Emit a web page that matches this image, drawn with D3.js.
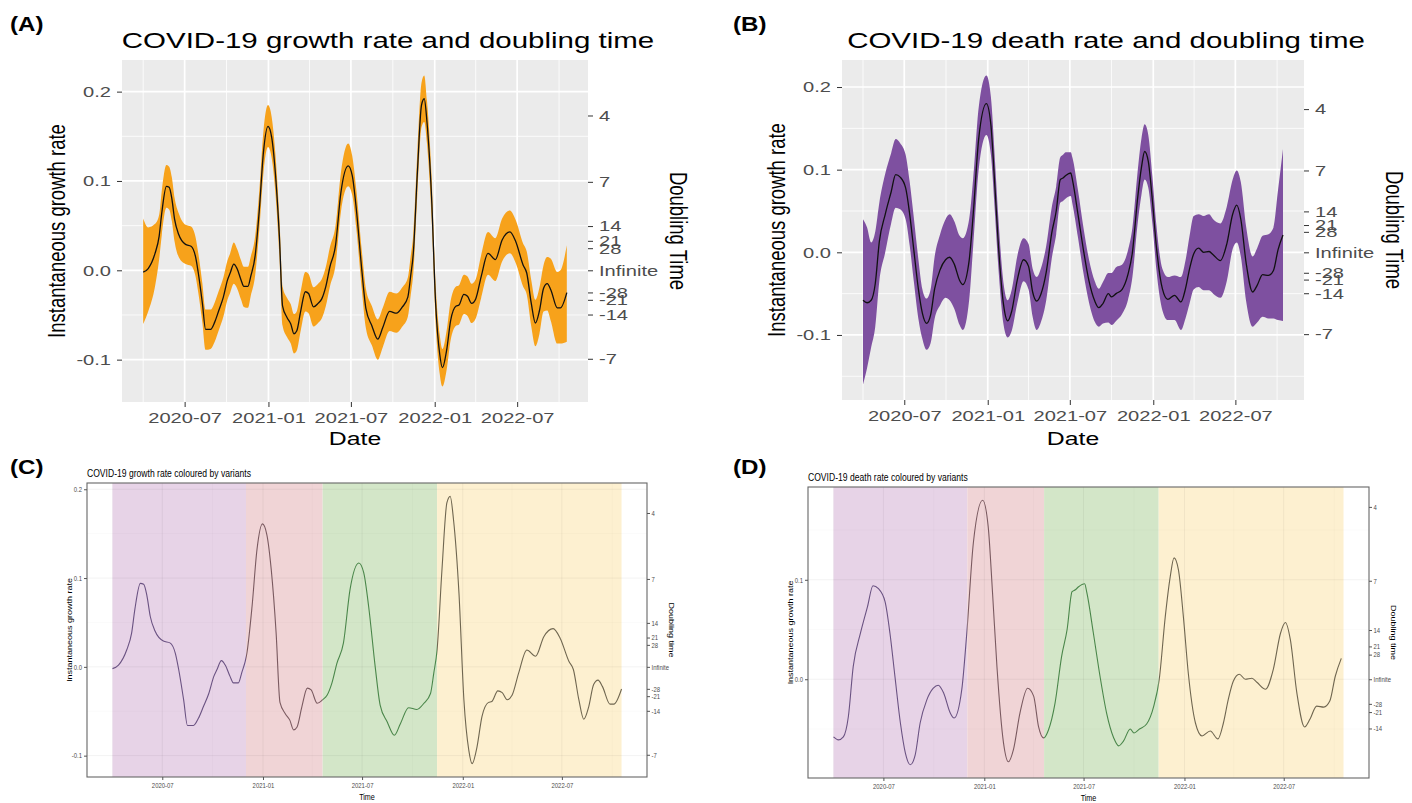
<!DOCTYPE html>
<html><head><meta charset="utf-8">
<script src="https://cdn.jsdelivr.net/npm/d3@7"></script>
<style>
body{margin:0;background:#fff;}
svg{display:block;font-family:"Liberation Sans",Arial,sans-serif;}
</style>
</head><body>
<svg id="chart" width="1412" height="803"></svg>
<script>
// ---------------- DATA ----------------
const growthDates = ["2020-04-01","2020-04-12","2020-04-27","2020-05-06","2020-05-12","2020-05-22","2020-05-28","2020-06-03","2020-06-09","2020-06-18",
"2020-07-03","2020-07-15","2020-07-25","2020-07-31","2020-08-09","2020-08-16","2020-08-27","2020-09-05","2020-09-14","2020-09-24",
"2020-10-03","2020-10-09","2020-10-17","2020-10-24","2020-11-02","2020-11-08","2020-11-17","2020-11-23","2020-12-03","2020-12-12",
"2020-12-21","2020-12-31","2021-01-08","2021-01-16","2021-01-25","2021-02-01","2021-02-11","2021-02-19","2021-02-26","2021-03-04",
"2021-03-13","2021-03-23","2021-03-30","2021-04-10","2021-04-20","2021-04-28","2021-05-07","2021-05-16","2021-05-28","2021-06-09",
"2021-06-25","2021-07-04","2021-07-13","2021-07-25","2021-08-03","2021-08-16","2021-08-29","2021-09-09","2021-09-24","2021-10-09",
"2021-10-22","2021-11-03","2021-11-09","2021-11-15","2021-11-24","2021-12-03","2021-12-09","2021-12-15","2021-12-25","2022-01-03",
"2022-01-12","2022-01-18","2022-01-27","2022-02-05","2022-02-17","2022-02-23","2022-03-06","2022-03-14","2022-03-23","2022-04-01",
"2022-04-13","2022-04-28","2022-05-14","2022-05-29","2022-06-15","2022-06-28","2022-07-14","2022-07-22","2022-08-01","2022-08-10",
"2022-08-19","2022-08-28","2022-09-05","2022-09-13","2022-09-27","2022-10-04","2022-10-18"];
const growthRate = [-0.002,0.002,0.019,0.038,0.065,0.094,0.093,0.080,0.057,0.040,
0.029,0.027,0.015,-0.003,-0.037,-0.066,-0.066,-0.058,-0.045,-0.030,
-0.011,-0.003,0.007,0.002,-0.011,-0.018,-0.018,-0.007,0.017,0.068,
0.132,0.161,0.149,0.110,0.038,-0.040,-0.053,-0.060,-0.071,-0.068,
-0.045,-0.024,-0.026,-0.041,-0.037,-0.032,-0.018,0.004,0.027,0.087,
0.117,0.106,0.068,0.000,-0.043,-0.062,-0.077,-0.064,-0.046,-0.048,
-0.041,-0.030,-0.007,0.019,0.110,0.185,0.192,0.166,0.083,-0.037,
-0.094,-0.109,-0.090,-0.056,-0.040,-0.039,-0.027,-0.029,-0.037,-0.032,
-0.007,0.019,0.012,0.034,0.043,0.032,0.006,-0.003,-0.037,-0.059,
-0.045,-0.020,-0.015,-0.022,-0.042,-0.042,-0.025];
const growthLower = [-0.060,-0.046,-0.018,0.012,0.040,0.070,0.068,0.055,0.032,0.015,
0.007,0.005,-0.007,-0.025,-0.059,-0.089,-0.088,-0.080,-0.067,-0.052,
-0.033,-0.025,-0.015,-0.020,-0.033,-0.041,-0.042,-0.029,-0.005,0.046,
0.109,0.138,0.126,0.088,0.016,-0.062,-0.075,-0.082,-0.093,-0.090,
-0.067,-0.046,-0.048,-0.063,-0.059,-0.054,-0.040,-0.018,0.005,0.065,
0.094,0.084,0.046,-0.022,-0.065,-0.084,-0.100,-0.086,-0.068,-0.070,
-0.063,-0.052,-0.029,-0.003,0.086,0.160,0.166,0.142,0.059,-0.059,
-0.116,-0.130,-0.112,-0.078,-0.062,-0.061,-0.049,-0.051,-0.059,-0.054,
-0.031,-0.005,-0.012,0.010,0.019,0.008,-0.018,-0.027,-0.063,-0.085,
-0.071,-0.046,-0.045,-0.057,-0.082,-0.082,-0.080];
const growthUpper = [0.058,0.048,0.052,0.062,0.090,0.118,0.116,0.104,0.081,0.064,
0.051,0.049,0.037,0.019,-0.015,-0.044,-0.044,-0.036,-0.023,-0.008,
0.011,0.019,0.031,0.024,0.011,0.004,0.004,0.015,0.039,0.090,
0.156,0.185,0.172,0.132,0.060,-0.018,-0.031,-0.038,-0.049,-0.046,
-0.023,-0.002,-0.004,-0.019,-0.015,-0.010,0.004,0.026,0.049,0.109,
0.142,0.128,0.090,0.022,-0.021,-0.040,-0.055,-0.042,-0.024,-0.026,
-0.019,-0.008,0.015,0.041,0.134,0.210,0.218,0.190,0.107,-0.015,
-0.072,-0.088,-0.068,-0.034,-0.018,-0.017,-0.005,-0.007,-0.015,-0.010,
0.017,0.043,0.036,0.058,0.067,0.056,0.030,0.021,-0.011,-0.033,
-0.019,0.006,0.015,0.013,-0.002,0.000,0.028];

const deathDates = ["2020-04-01","2020-04-10","2020-04-19","2020-04-28","2020-05-07","2020-05-20","2020-06-02","2020-06-12","2020-06-22","2020-07-04",
"2020-07-13","2020-07-22","2020-08-01","2020-08-10","2020-08-19","2020-08-28","2020-09-06","2020-09-18","2020-09-30","2020-10-09",
"2020-10-19","2020-10-31","2020-11-07","2020-11-21","2020-11-30","2020-12-12","2020-12-29","2021-01-08","2021-01-16","2021-01-24",
"2021-02-05","2021-02-14","2021-02-23","2021-03-07","2021-03-21","2021-04-01","2021-04-10","2021-04-19","2021-04-28","2021-05-10",
"2021-05-22","2021-06-01","2021-06-10","2021-06-16","2021-06-22","2021-07-03","2021-07-07","2021-07-19","2021-07-31","2021-08-12",
"2021-08-25","2021-09-03","2021-09-12","2021-09-24","2021-10-01","2021-10-11","2021-10-24","2021-11-06","2021-11-16","2021-11-27",
"2021-12-06","2021-12-13","2021-12-21","2021-12-30","2022-01-08","2022-01-21","2022-02-02","2022-02-17","2022-03-03","2022-03-13",
"2022-03-22","2022-03-31","2022-04-11","2022-04-22","2022-05-04","2022-05-13","2022-05-29","2022-06-12","2022-06-25","2022-07-04",
"2022-07-13","2022-07-25","2022-08-08","2022-08-18","2022-08-30","2022-09-12","2022-09-23","2022-10-03","2022-10-14"];
const deathRate = [-0.058,-0.061,-0.058,-0.038,0.013,0.046,0.073,0.094,0.091,0.078,
0.046,0.003,-0.044,-0.074,-0.086,-0.076,-0.044,-0.021,-0.009,-0.006,
-0.014,-0.034,-0.039,-0.010,0.046,0.137,0.180,0.154,0.087,0.013,
-0.064,-0.083,-0.071,-0.034,-0.009,-0.017,-0.048,-0.059,-0.051,-0.024,
0.023,0.050,0.088,0.090,0.093,0.096,0.087,0.046,0.003,-0.034,
-0.059,-0.067,-0.062,-0.050,-0.054,-0.050,-0.045,-0.027,0.000,0.063,
0.103,0.122,0.110,0.063,0.006,-0.044,-0.057,-0.052,-0.060,-0.044,
-0.020,-0.002,0.005,0.000,0.001,-0.003,-0.010,0.010,0.046,0.057,
0.040,-0.014,-0.048,-0.040,-0.027,-0.028,-0.022,0.003,0.021];
const deathLower = [-0.160,-0.140,-0.115,-0.090,-0.035,0.000,0.035,0.054,0.052,0.040,
0.008,-0.035,-0.080,-0.105,-0.118,-0.110,-0.080,-0.064,-0.055,-0.058,
-0.068,-0.088,-0.094,-0.058,0.008,0.100,0.142,0.118,0.055,-0.015,
-0.088,-0.103,-0.095,-0.062,-0.035,-0.045,-0.078,-0.094,-0.085,-0.058,
-0.008,0.022,0.060,0.062,0.065,0.068,0.058,0.018,-0.025,-0.060,
-0.084,-0.090,-0.086,-0.085,-0.088,-0.083,-0.075,-0.058,-0.030,0.032,
0.070,0.088,0.078,0.035,-0.022,-0.070,-0.082,-0.082,-0.094,-0.080,
-0.062,-0.045,-0.042,-0.046,-0.046,-0.050,-0.055,-0.035,0.004,0.012,
-0.005,-0.060,-0.090,-0.085,-0.078,-0.080,-0.080,-0.082,-0.083];
const deathUpper = [0.040,0.030,0.012,0.025,0.060,0.095,0.120,0.137,0.132,0.118,
0.085,0.042,-0.008,-0.045,-0.056,-0.045,-0.005,0.022,0.040,0.046,
0.038,0.020,0.017,0.040,0.090,0.175,0.214,0.188,0.120,0.045,
-0.038,-0.058,-0.045,-0.005,0.017,0.010,-0.020,-0.030,-0.020,0.008,
0.054,0.080,0.115,0.118,0.121,0.121,0.114,0.075,0.030,-0.008,
-0.035,-0.044,-0.036,-0.025,-0.025,-0.018,-0.015,0.002,0.030,0.095,
0.138,0.155,0.142,0.092,0.032,-0.020,-0.030,-0.028,-0.030,-0.010,
0.020,0.044,0.046,0.044,0.046,0.040,0.035,0.055,0.088,0.099,
0.085,0.030,-0.005,0.005,0.020,0.022,0.030,0.075,0.125];

const variantNames = ["Wild type","Alpha","Delta","Omicron"];
const variantStart = ["2020-04-01","2020-12-01","2021-04-20","2021-11-15"];
const variantEnd   = ["2020-12-01","2021-04-20","2021-11-15","2022-10-18"];

const dateBreaks = ["2020-07-01","2021-01-01","2021-07-01","2022-01-01","2022-07-01"];
const dateTickLabels = ["2020-07","2021-01","2021-07","2022-01","2022-07"];
const dateMinorBreaks = ["2020-04-01","2020-10-01","2021-04-01","2021-10-01","2022-04-01","2022-10-01"];
const rateBreaks = [-0.1, 0.0, 0.1, 0.2];
const rateTickLabels = ["-0.1","0.0","0.1","0.2"];
const rateMinorBreaks = [-0.15, -0.05, 0.05, 0.15];
const doublingDays = [4, 7, 14, 21, 28, Infinity, -28, -21, -14, -7];
const doublingTickLabels = ["4","7","14","21","28","Infinite","-28","-21","-14","-7"];

// ---------------- STYLE / LAYOUT ----------------
const svg = d3.select("#chart");
const parse = d3.utcParse("%Y-%m-%d");
const expandNum = ([a,b]) => { const d=(b-a)*0.05; return [a-d,b+d]; };
const expandDate = ([a,b]) => { const d=(+b-+a)*0.05; return [new Date(+a-d), new Date(+b+d)]; };
const toRate = d => (d === Infinity ? 0 : Math.LN2 / d);

function label(parent, x, y, str, o) {
  const t = parent.append("text")
    .attr("transform", `translate(${x},${y}) scale(${o.sx||1},1)` + (o.rot ? ` rotate(${o.rot})` : ""))
    .attr("text-anchor", o.anchor || "start")
    .attr("fill", o.fill || "#000")
    .style("font-size", o.size + "px")
    .style("font-weight", o.weight || "normal")
    .text(str);
  if (o.family) t.style("font-family", o.family);
  return t;
}

function styleAxis(ax, sx, size, color, tickColor) {
  ax.select(".domain").remove();
  ax.selectAll(".tick line").attr("stroke", tickColor);
  ax.selectAll(".tick text")
    .attr("fill", color)
    .style("font-size", size + "px")
    .style("font-family", '"Liberation Sans",Arial,sans-serif')
    .each(function() {
      const s = d3.select(this);
      const xx = s.attr("x");
      if (xx !== null) s.attr("x", +xx / sx);
      s.attr("transform", `scale(${sx},1)`);
    });
}

function drawAxes(g, x, y, box, st) {
  const yTicks = rateBreaks.map((v,i)=>({v,l:rateTickLabels[i]})).filter(t => y(t.v) >= box.t + 1 && y(t.v) <= box.b - 1);
  const axL = g.append("g").attr("transform", `translate(${box.l},0)`)
    .call(d3.axisLeft(y).tickValues(yTicks.map(t=>t.v)).tickFormat((d,i)=>yTicks[i].l)
      .tickSize(st.tick).tickPadding(st.padL));
  styleAxis(axL, st.sx, st.tickFont, st.tickFill, st.tickLine);

  const rTicks = doublingDays.map((d,i)=>({v:toRate(d), l:doublingTickLabels[i]})).filter(t => y(t.v) >= box.t + 1 && y(t.v) <= box.b - 1);
  const axR = g.append("g").attr("transform", `translate(${box.r},0)`)
    .call(d3.axisRight(y).tickValues(rTicks.map(t=>t.v)).tickFormat((d,i)=>rTicks[i].l)
      .tickSize(st.tick).tickPadding(st.padR));
  styleAxis(axR, st.sx, st.tickFont, st.tickFill, st.tickLine);

  const axB = g.append("g").attr("transform", `translate(0,${box.b})`)
    .call(d3.axisBottom(x).tickValues(dateBreaks.map(parse)).tickFormat((d,i)=>dateTickLabels[i])
      .tickSize(st.tick).tickPadding(st.padB));
  styleAxis(axB, st.sx, st.tickFont, st.tickFill, st.tickLine);
}

// ---------- Panels A / B (ribbon, ggplot grey theme) ----------
function ribbonPanel(c) {
  const box = c.box, sx = 1.34;
  const g = svg.append("g");
  const ds = c.dates.map(parse);
  const x = d3.scaleUtc().domain(expandDate(d3.extent(ds))).range([box.l, box.r]);
  const y = d3.scaleLinear().domain(expandNum([d3.min(c.lo), d3.max(c.hi)])).range([box.b, box.t]);

  g.append("rect").attr("x", box.l).attr("y", box.t).attr("width", box.r-box.l).attr("height", box.b-box.t).attr("fill", "#EBEBEB");
  const inX = d => x(d) > box.l && x(d) < box.r;
  const inY = v => y(v) > box.t && y(v) < box.b;
  g.selectAll(null).data(rateMinorBreaks.filter(inY)).join("line")
    .attr("x1", box.l).attr("x2", box.r).attr("y1", d=>y(d)).attr("y2", d=>y(d)).attr("stroke", "#fff").attr("stroke-width", 0.8);
  g.selectAll(null).data(dateMinorBreaks.map(parse).filter(inX)).join("line")
    .attr("y1", box.t).attr("y2", box.b).attr("x1", d=>x(d)).attr("x2", d=>x(d)).attr("stroke", "#fff").attr("stroke-width", 0.8);
  g.selectAll(null).data(rateBreaks.filter(inY)).join("line")
    .attr("x1", box.l).attr("x2", box.r).attr("y1", d=>y(d)).attr("y2", d=>y(d)).attr("stroke", "#fff").attr("stroke-width", 1.7);
  g.selectAll(null).data(dateBreaks.map(parse).filter(inX)).join("line")
    .attr("y1", box.t).attr("y2", box.b).attr("x1", d=>x(d)).attr("x2", d=>x(d)).attr("stroke", "#fff").attr("stroke-width", 1.7);

  const pts = ds.map((d,i)=>({d, v:c.vals[i], lo:c.lo[i], hi:c.hi[i]}));
  g.append("path").datum(pts)
    .attr("d", d3.area().x(p=>x(p.d)).y0(p=>y(p.lo)).y1(p=>y(p.hi)).curve(d3.curveMonotoneX))
    .attr("fill", c.fill);
  g.append("path").datum(pts)
    .attr("d", d3.line().x(p=>x(p.d)).y(p=>y(p.v)).curve(d3.curveMonotoneX))
    .attr("fill", "none").attr("stroke", "#111").attr("stroke-width", 1.3);

  drawAxes(g, x, y, box, {sx, tick:5, padL:6, padR:6, padB:5, tickFont:15, tickFill:"#4D4D4D", tickLine:"#333"});

  const cx = (box.l + box.r) / 2, cy = (box.t + box.b) / 2;
  label(g, cx + 33, 48, c.title, {size:22.5, sx:1.31, anchor:"middle"});
  label(g, cx, 445, "Date", {size:18.5, sx, anchor:"middle"});
  label(g, box.l - 57, cy, "Instantaneous growth rate", {size:18.5, sx, anchor:"middle", rot:-90});
  label(g, box.r + 82, cy, "Doubling Time", {size:18.5, sx, anchor:"middle", rot:90});
  label(g, c.tagX, 31, c.tag, {size:21, sx:1.15, weight:"bold"});
}

// ---------- Panels C / D (variant bands, bw theme) ----------
const bandFill = ["#E7D3E7", "#F0D4D6", "#D3E6C8", "#FDF0D0"];
const bandLine = ["#6A5282", "#7A5A60", "#4A864A", "#6F6650"];
let clipId = 0;
function variantPanel(c) {
  const box = c.box, sx = 0.8;
  const g = svg.append("g");
  const ds = c.dates.map(parse);
  const allDates = ds.concat(variantStart.map(parse), variantEnd.map(parse));
  const x = d3.scaleUtc().domain(expandDate(d3.extent(allDates))).range([box.l, box.r]);
  const y = d3.scaleLinear().domain(expandNum(d3.extent(c.vals))).range([box.b, box.t]);

  g.append("rect").attr("x", box.l).attr("y", box.t).attr("width", box.r-box.l).attr("height", box.b-box.t).attr("fill", "#fff");
  g.selectAll(null).data(variantNames).join("rect")
    .attr("x", (d,i)=>x(parse(variantStart[i]))).attr("width", (d,i)=>x(parse(variantEnd[i]))-x(parse(variantStart[i])))
    .attr("y", box.t).attr("height", box.b-box.t).attr("fill", (d,i)=>bandFill[i]);

  const inX = d => x(d) > box.l && x(d) < box.r;
  const inY = v => y(v) > box.t && y(v) < box.b;
  g.selectAll(null).data(rateMinorBreaks.filter(inY)).join("line")
    .attr("x1", box.l).attr("x2", box.r).attr("y1", d=>y(d)).attr("y2", d=>y(d)).attr("stroke", "rgba(0,0,0,0.035)").attr("stroke-width", 0.6);
  g.selectAll(null).data(dateMinorBreaks.map(parse).filter(inX)).join("line")
    .attr("y1", box.t).attr("y2", box.b).attr("x1", d=>x(d)).attr("x2", d=>x(d)).attr("stroke", "rgba(0,0,0,0.035)").attr("stroke-width", 0.6);
  g.selectAll(null).data(rateBreaks.filter(inY)).join("line")
    .attr("x1", box.l).attr("x2", box.r).attr("y1", d=>y(d)).attr("y2", d=>y(d)).attr("stroke", "rgba(0,0,0,0.06)").attr("stroke-width", 0.9);
  g.selectAll(null).data(dateBreaks.map(parse).filter(inX)).join("line")
    .attr("y1", box.t).attr("y2", box.b).attr("x1", d=>x(d)).attr("x2", d=>x(d)).attr("stroke", "rgba(0,0,0,0.06)").attr("stroke-width", 0.9);

  const pts = ds.map((d,i)=>({d, v:c.vals[i]}));
  const lineGen = d3.line().x(p=>x(p.d)).y(p=>y(p.v)).curve(d3.curveMonotoneX);
  variantNames.forEach((name, i) => {
    const id = "clip" + (clipId++);
    const x0 = x(parse(variantStart[i])), x1 = x(parse(variantEnd[i]));
    g.append("clipPath").attr("id", id).append("rect")
      .attr("x", i === 0 ? box.l : x0).attr("width", (i === variantNames.length-1 ? box.r : x1) - (i === 0 ? box.l : x0))
      .attr("y", box.t).attr("height", box.b-box.t);
    g.append("path").datum(pts).attr("clip-path", `url(#${id})`)
      .attr("d", lineGen).attr("fill", "none").attr("stroke", bandLine[i]).attr("stroke-width", 1.1);
  });

  g.append("rect").attr("x", box.l).attr("y", box.t).attr("width", box.r-box.l).attr("height", box.b-box.t)
    .attr("fill", "none").attr("stroke", "#666").attr("stroke-width", 1.1);

  drawAxes(g, x, y, box, {sx:0.85, tick:3, padL:2, padR:1.5, padB:3, tickFont:7, tickFill:"#4D4D4D", tickLine:"#555"});

  const cx = (box.l + box.r) / 2, cy = (box.t + box.b) / 2;
  label(g, box.l, c.titleY, c.title, {size:11, sx:0.78});
  label(g, cx, box.b + 23, "Time", {size:9, sx, anchor:"middle"});
  label(g, box.l - 15, cy, "Instantaneous growth rate", {size:9, sx, anchor:"middle", rot:-90});
  label(g, box.r + 22, cy, "Doubling time", {size:9, sx, anchor:"middle", rot:90});
  label(g, c.tagX, 474, c.tag, {size:21, sx:1.15, weight:"bold"});
}

ribbonPanel({box:{l:122, r:588, t:60, b:402}, dates:growthDates, vals:growthRate, lo:growthLower, hi:growthUpper,
  fill:"#F7A21B", title:"COVID-19 growth rate and doubling time", tag:"(A)", tagX:10});
ribbonPanel({box:{l:842, r:1304, t:60, b:400}, dates:deathDates, vals:deathRate, lo:deathLower, hi:deathUpper,
  fill:"#7E50A0", title:"COVID-19 death rate and doubling time", tag:"(B)", tagX:733});
variantPanel({box:{l:87, r:647, t:483, b:777}, dates:growthDates, vals:growthRate,
  title:"COVID-19 growth rate coloured by variants", titleY:477, tag:"(C)", tagX:10});
variantPanel({box:{l:808, r:1369, t:487, b:778}, dates:deathDates, vals:deathRate,
  title:"COVID-19 death rate coloured by variants", titleY:481, tag:"(D)", tagX:733});
</script>
</body></html>
